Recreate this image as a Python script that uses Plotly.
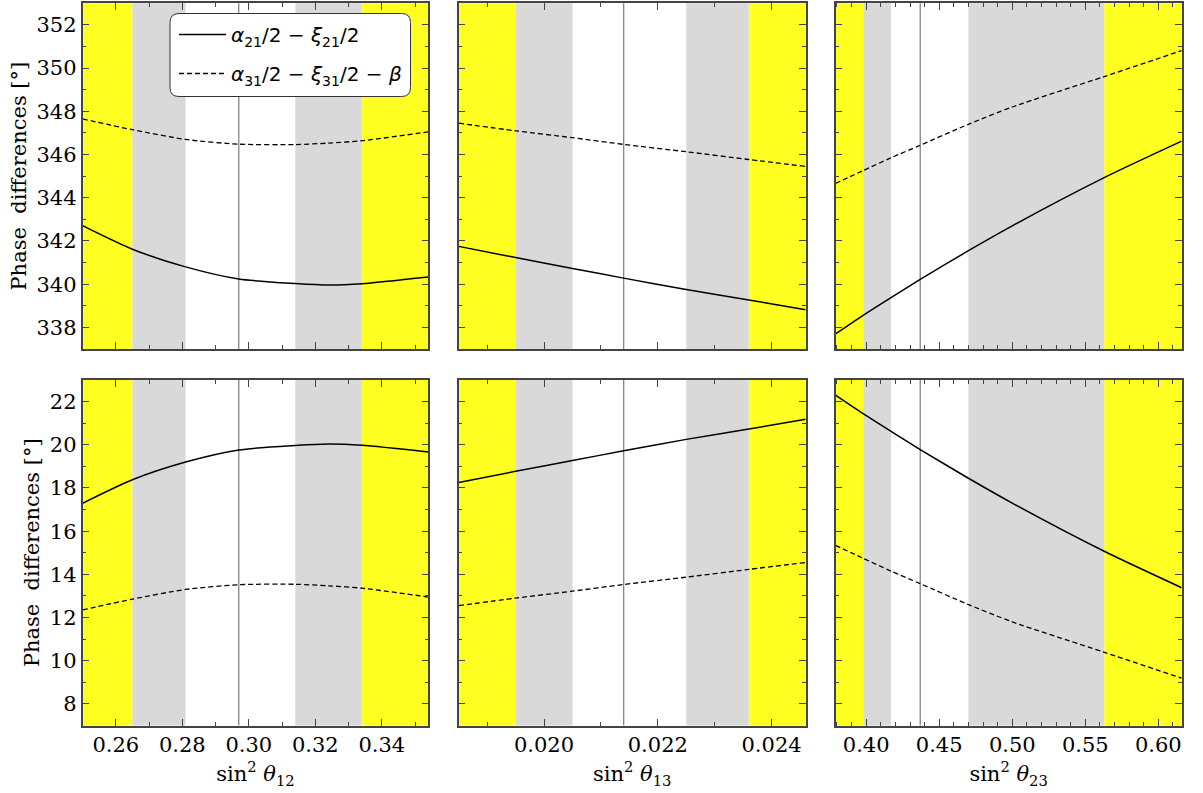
import plotly.graph_objects as go

# ---------------- data ----------------
x12 = [0.250, 0.265, 0.281, 0.297, 0.314, 0.324, 0.334, 0.354]
top12_solid = [342.71, 341.62, 340.80, 340.24, 340.03, 339.96, 340.02, 340.33]
top12_dash = [347.65, 347.15, 346.70, 346.48, 346.46, 346.53, 346.64, 347.05]
bot12_solid = [17.29, 18.38, 19.20, 19.76, 19.97, 20.04, 19.98, 19.67]
bot12_dash = [12.35, 12.85, 13.30, 13.52, 13.54, 13.47, 13.36, 12.95]

x13 = [0.0185, 0.0195, 0.0205, 0.0214, 0.0225, 0.0236, 0.0246]
top13_solid = [341.75, 341.23, 340.73, 340.28, 339.75, 339.27, 338.82]
top13_dash = [347.45, 347.10, 346.78, 346.47, 346.13, 345.77, 345.45]
bot13_solid = [18.25, 18.77, 19.27, 19.72, 20.25, 20.73, 21.18]
bot13_dash = [12.55, 12.90, 13.22, 13.53, 13.87, 14.23, 14.55]

x23 = [0.379, 0.3977, 0.417, 0.437, 0.470, 0.500, 0.5626, 0.616]
top23_solid = [337.70, 338.55, 339.38, 340.22, 341.55, 342.70, 344.92, 346.62]
top23_dash = [344.66, 345.25, 345.85, 346.43, 347.40, 348.20, 349.60, 350.81]
bot23_solid = [22.30, 21.45, 20.62, 19.78, 18.45, 17.30, 15.08, 13.38]
bot23_dash = [15.34, 14.75, 14.15, 13.57, 12.60, 11.80, 10.40, 9.19]

# ranges: [3sigma lo, 2sigma lo, 1sigma lo, best, 1sigma hi, 2sigma hi, 3sigma hi]
ranges12 = [0.250, 0.265, 0.281, 0.297, 0.314, 0.334, 0.354]
ranges13 = [0.0185, 0.0195, 0.0205, 0.0214, 0.0225, 0.0236, 0.0246]
ranges23 = [0.379, 0.398, 0.417, 0.437, 0.470, 0.563, 0.616]

x_titles = ["sin<sup>2</sup> <i>θ</i><sub>12</sub>",
            "sin<sup>2</sup> <i>θ</i><sub>13</sub>",
            "sin<sup>2</sup> <i>θ</i><sub>23</sub>"]
y_title = "Phase\u00a0 differences [°]"
legend_names = ["<i>α</i><sub>21</sub>/2 − <i>ξ</i><sub>21</sub>/2",
                "<i>α</i><sub>31</sub>/2 − <i>ξ</i><sub>31</sub>/2 − <i>β</i>"]

top_range = [337, 353]
bot_range = [7, 23]
x_dtick = [0.02, 0.002, 0.05]
x_minor = [0.01, 0.001, 0.01]

# ---------------- layout geometry ----------------
W, H = 1203, 793
xdoms = [(82.5, 428.3), (458.7, 805.7), (835.5, 1181.7)]
ydoms = [(3.3, 349.0), (380.0, 725.5)]  # pixel from top

YELLOW = "#FFFF22"
GRAY = "#D9D9D9"
FRAME = "#444444"
FONT = "DejaVu Serif"

panels = [
    (x12, top12_solid, top12_dash, bot12_solid, bot12_dash, ranges12),
    (x13, top13_solid, top13_dash, bot13_solid, bot13_dash, ranges13),
    (x23, top23_solid, top23_dash, bot23_solid, bot23_dash, ranges23),
]

fig = go.Figure()
shapes = []
layout = dict(
    width=W, height=H, margin=dict(l=0, r=0, t=0, b=0),
    paper_bgcolor="white", plot_bgcolor="white",
    font=dict(family=FONT, size=20, color="black"),
    showlegend=True,
)

for r in range(2):
    for c in range(3):
        idx = r * 3 + c + 1
        xa = "x" if idx == 1 else f"x{idx}"
        ya = "y" if idx == 1 else f"y{idx}"
        xs, ts, td, bs, bd, rg = panels[c]
        ysolid = ts if r == 0 else bs
        ydash = td if r == 0 else bd
        fig.add_trace(go.Scatter(
            x=xs, y=ysolid, mode="lines", xaxis=xa, yaxis=ya,
            line=dict(color="black", width=1.5, shape="spline", smoothing=0.7),
            name=legend_names[0], showlegend=(idx == 1), legendgroup="a"))
        fig.add_trace(go.Scatter(
            x=xs, y=ydash, mode="lines", xaxis=xa, yaxis=ya,
            line=dict(color="black", width=1.3, dash="5px,3px", shape="spline", smoothing=0.7),
            name=legend_names[1], showlegend=(idx == 1), legendgroup="b"))

        # bands
        band_cols = [YELLOW, GRAY, "white", "white", GRAY, YELLOW]
        for k in range(6):
            if band_cols[k] == "white":
                continue
            shapes.append(dict(type="rect", xref=xa, yref=f"{ya} domain",
                               x0=rg[k], x1=rg[k + 1], y0=0, y1=1,
                               fillcolor=band_cols[k], line=dict(width=0),
                               layer="below"))
        shapes.append(dict(type="line", xref=xa, yref=f"{ya} domain",
                           x0=rg[3], x1=rg[3], y0=0, y1=1,
                           line=dict(color="#858585", width=1.3), layer="below"))

        x0p, x1p = xdoms[c]
        y0p, y1p = ydoms[r]
        xkey = "xaxis" if idx == 1 else f"xaxis{idx}"
        ykey = "yaxis" if idx == 1 else f"yaxis{idx}"
        layout[xkey] = dict(
            domain=[x0p / W, x1p / W], anchor=ya,
            range=[rg[0], rg[6]],
            dtick=x_dtick[c], tick0=0,
            ticks="inside", ticklen=7, tickwidth=1.3, tickcolor=FRAME,
            minor=dict(ticks="inside", ticklen=4, dtick=x_minor[c], tick0=0,
                       tickcolor=FRAME, tickwidth=1.2),
            showline=True, linecolor=FRAME, linewidth=1.5, mirror="ticks",
            showgrid=False, zeroline=False,
            showticklabels=(r == 1),
            tickformat=(".2f" if c != 1 else ".3f"),
            tickfont=dict(family=FONT, size=21, color="black"),
            title=dict(text=x_titles[c] if r == 1 else "",
                       font=dict(family=FONT, size=21, color="black"),
                       standoff=10),
        )
        layout[ykey] = dict(
            domain=[1 - y1p / H, 1 - y0p / H], anchor=xa,
            range=top_range if r == 0 else bot_range,
            dtick=2, tick0=0,
            ticks="inside", ticklen=7, tickwidth=1.3, tickcolor=FRAME,
            minor=dict(ticks="inside", ticklen=4, dtick=1, tick0=0,
                       tickcolor=FRAME, tickwidth=1.2),
            showline=True, linecolor=FRAME, linewidth=1.5, mirror="ticks",
            showgrid=False, zeroline=False,
            showticklabels=(c == 0),
            tickfont=dict(family=FONT, size=21, color="black"),
            title=dict(text=y_title if c == 0 else "",
                       font=dict(family=FONT, size=21, color="black"),
                       standoff=4),
        )

# legend box (rounded rectangle)
bx0, bx1, by0, by1, rad = 170.0, 410.5, 13.5, 96.5, 9.0
def px(x):
    return x / W
def py(y):
    return 1 - y / H
path = (f"M {px(bx0 + rad)},{py(by0)} L {px(bx1 - rad)},{py(by0)} "
        f"Q {px(bx1)},{py(by0)} {px(bx1)},{py(by0 + rad)} "
        f"L {px(bx1)},{py(by1 - rad)} Q {px(bx1)},{py(by1)} {px(bx1 - rad)},{py(by1)} "
        f"L {px(bx0 + rad)},{py(by1)} Q {px(bx0)},{py(by1)} {px(bx0)},{py(by1 - rad)} "
        f"L {px(bx0)},{py(by0 + rad)} Q {px(bx0)},{py(by0)} {px(bx0 + rad)},{py(by0)} Z")
shapes.append(dict(type="path", xref="paper", yref="paper", path=path,
                   fillcolor="white", line=dict(color="#333333", width=1),
                   layer="above"))

layout["shapes"] = shapes
layout["legend"] = dict(
    x=174 / W, y=1 - 15 / H, xanchor="left", yanchor="top",
    bgcolor="rgba(0,0,0,0)", borderwidth=0,
    font=dict(family="DejaVu Sans", size=20, color="black"),
    itemwidth=47, tracegroupgap=10,
)
fig.update_layout(**layout)
fig.write_html("out.html")
